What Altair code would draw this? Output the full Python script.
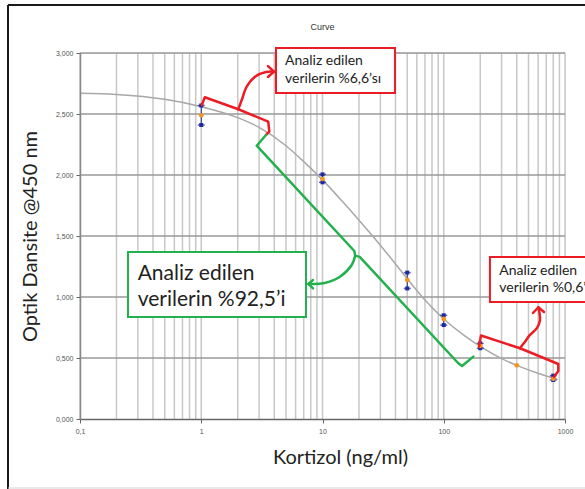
import altair as alt
import pandas as pd

# Cortisol standards (ng/ml) and optical density at 450 nm
conc = [1, 10, 50, 100, 200, 400, 800]
od_high = [2.57, 2.005, 1.20, 0.85, 0.62, None, 0.355]
od_mean = [2.49, 1.967, 1.14, 0.82, 0.60, 0.44, 0.33]
od_low = [2.41, 1.94, 1.07, 0.77, 0.58, None, 0.32]

# fitted standard curve
fit_conc = [0.1, 0.2, 0.5, 1, 2, 3, 5, 7, 10, 15, 20, 30, 50, 70, 100, 150, 200, 300, 400, 600, 870]
fit_od = [2.67, 2.66, 2.62, 2.56, 2.47, 2.39, 2.24, 2.11, 1.96, 1.77, 1.63, 1.425, 1.15, 0.975, 0.82, 0.68, 0.595, 0.495, 0.44, 0.375, 0.325]

# axis ticks and grid
x_ticks = [0.1, 1, 10, 100, 1000]
y_ticks = [0, 0.5, 1, 1.5, 2, 2.5, 3]
x_grid = [m * 10.0 ** e for e in range(-1, 3) for m in range(1, 10)] + [1000]

# annotation shapes, in (ng/ml, OD) units
red_brackets = {
    "upper": [(1.01, 2.574), (1.07, 2.637), (2.02, 2.539), (3.57, 2.437), (3.64, 2.355), (3.42, 2.328)],
    "lower": [(195.3, 0.594), (202.9, 0.684), (425.6, 0.580), (880.6, 0.451), (880.6, 0.393), (811.8, 0.344)],
    "upper_head": [(3.55, 2.893), (3.98, 2.847), (3.55, 2.803)],
    "lower_head": [(544.5, 0.869), (602.6, 0.916), (671.0, 0.877)],
}
red_arrows = {
    "upper": [(2.02, 2.539), (2.157, 2.615), (2.371, 2.724), (2.776, 2.806), (3.42, 2.844), (3.98, 2.847)],
    "lower": [(425.6, 0.580), (467.9, 0.634), (514.2, 0.689), (584.4, 0.743), (622.2, 0.811), (613.8, 0.879), (602.6, 0.916)],
}
green_brackets = {
    "bracket": [(3.42, 2.328), (2.866, 2.240), (18.30, 1.377), (18.61, 1.339), (20.27, 1.329), (131.8, 0.457), (141.5, 0.434), (175.3, 0.511)],
    "head": [(8.35, 1.139), (7.64, 1.107), (8.35, 1.071)],
}
green_arrows = {
    "arrow": [(18.61, 1.339), (17.41, 1.262), (13.94, 1.166), (10.15, 1.112), (7.64, 1.107)],
}

red_boxes_x = [4.136, 240.4]
red_boxes_x2 = [39.6, 4159]
red_boxes_y = [2.672, 0.959]
red_boxes_y2 = [3.041, 1.328]
green_box = dict(x=[0.2489], x2=[7.31], y=[0.836], y2=[1.369])

red_text_x = [4.906, 4.906, 287, 287]
red_text_y = [2.898, 2.754, 1.180, 1.037]
red_text = ["Analiz edilen", "verilerin %6,6’sı", "Analiz edilen", "verilerin %0,6’sı"]
green_text_x = [0.299, 0.299]
green_text_y = [1.139, 0.926]
green_text = ["Analiz edilen", "verilerin %92,5’i"]

RED = "#ec1c24"
GREEN = "#22b14c"
BLUE = "#1f2a9c"
ORANGE = "#f7941d"

xs = alt.Scale(type="log", domain=[0.1, 1000], nice=False)
ys = alt.Scale(domain=[0, 3], nice=False, zero=False)

x_axis = alt.Axis(
    values=x_ticks, grid=False, zindex=1,
    labelExpr="replace(format(datum.value, '~g'), '.', ',')",
    labelFont="Liberation Sans", labelFontSize=7, labelColor="#555", labelFlush=False,
    labelPadding=4, tickSize=4, tickColor="#666", domainColor="#666", domainWidth=1.5,
    title="Kortizol (ng/ml)", titleFont="Lato", titleFontSize=20, titleFontWeight="normal",
    titleColor="#222", titleX=260, titleY=38, titleAlign="center", titleBaseline="middle",
)
y_axis = alt.Axis(
    values=y_ticks, grid=False, zindex=1,
    labelExpr="replace(format(datum.value, '.3f'), '.', ',')",
    labelFont="Liberation Sans", labelFontSize=7, labelColor="#555", labelFlush=False,
    labelPadding=3, tickSize=4, tickColor="#666", domainColor="#888", domainWidth=1.5,
    title="Optik Dansite @450 nm", titleFont="Lato", titleFontSize=20, titleFontWeight="normal",
    titleColor="#222", titleX=-50, titleY=183, titleAngle=270, titleAlign="center",
    titleBaseline="middle",
)


def X(field="x"):
    return alt.X(f"{field}:Q", scale=xs, axis=x_axis)


def Y(field="y"):
    return alt.Y(f"{field}:Q", scale=ys, axis=y_axis)


def path_frame(paths):
    rows = []
    for name, pts in paths.items():
        for i, (px, py) in enumerate(pts):
            rows.append({"path": name, "i": i, "x": px, "y": py})
    return pd.DataFrame(rows)


def path_layer(paths, color, interpolate):
    return alt.Chart(path_frame(paths)).mark_line(
        color=color, strokeWidth=2.5, interpolate=interpolate,
        strokeCap="round", strokeJoin="round",
    ).encode(x=X(), y=Y(), detail="path:N", order="i:Q")


one = pd.DataFrame({"k": [0]})

vgrid = alt.Chart(pd.DataFrame({"x": x_grid})).mark_rule(color="#c8c8c8", strokeWidth=1.5).encode(x=X())
hgrid = alt.Chart(pd.DataFrame({"y": y_ticks[1:]})).mark_rule(color="#999999", strokeWidth=1.5).encode(y=Y())

# page frame and chart heading
frame_left = alt.Chart(one).mark_rule(color="#1a1a1a", strokeWidth=2).encode(
    x=alt.value(-72), y=alt.value(-48), y2=alt.value(440))
frame_top = alt.Chart(one).mark_rule(color="#1a1a1a", strokeWidth=2).encode(
    x=alt.value(-72), x2=alt.value(510), y=alt.value(-48))
frame_bottom = alt.Chart(one).mark_rule(color="#d4d4d4", strokeWidth=1).encode(
    x=alt.value(-72), x2=alt.value(510), y=alt.value(435))
heading = alt.Chart(one).mark_text(
    font="Liberation Sans", fontSize=9, color="#333", align="center", baseline="middle").encode(
    x=alt.value(242.5), y=alt.value(-26), text=alt.value("Curve"))

curve = alt.Chart(pd.DataFrame({"x": fit_conc, "y": fit_od})).mark_line(
    color="#a8a8a8", strokeWidth=1.5, interpolate="monotone").encode(x=X(), y=Y())

pts = pd.DataFrame({"conc": conc, "high": od_high, "mean": od_mean, "low": od_low})
rep = pts.dropna()
ends = pd.concat([rep[["conc", "high"]].rename(columns={"high": "od"}),
                  rep[["conc", "low"]].rename(columns={"low": "od"})])

err = alt.Chart(rep).mark_rule(color=BLUE, strokeWidth=1).encode(x=X("conc"), y=Y("low"), y2="high")
caps = alt.Chart(ends).mark_tick(orient="horizontal", color=BLUE, size=7, thickness=1.5).encode(
    x=X("conc"), y=Y("od"))
blue = alt.Chart(ends).mark_square(size=16, color=BLUE, opacity=1).encode(x=X("conc"), y=Y("od"))
orange = alt.Chart(pts).mark_circle(size=22, color=ORANGE, opacity=1).encode(x=X("conc"), y=Y("mean"))

red_box = alt.Chart(pd.DataFrame({"x": red_boxes_x, "x2": red_boxes_x2, "y": red_boxes_y, "y2": red_boxes_y2})).mark_rect(
    fill="white", stroke=RED, strokeWidth=2).encode(x=X(), x2="x2", y=Y(), y2="y2")
green_rect = alt.Chart(pd.DataFrame(green_box)).mark_rect(
    fill="white", stroke=GREEN, strokeWidth=2).encode(x=X(), x2="x2", y=Y(), y2="y2")

red_label = alt.Chart(pd.DataFrame({"x": red_text_x, "y": red_text_y, "t": red_text})).mark_text(
    align="left", baseline="alphabetic", font="Lato", fontSize=14, color="#222").encode(x=X(), y=Y(), text="t:N")
green_label = alt.Chart(pd.DataFrame({"x": green_text_x, "y": green_text_y, "t": green_text})).mark_text(
    align="left", baseline="alphabetic", font="Lato", fontSize=21, color="#222").encode(x=X(), y=Y(), text="t:N")

chart = alt.layer(
    vgrid, hgrid, frame_left, frame_top, frame_bottom, heading, curve,
    err, caps, blue, orange,
    path_layer(red_brackets, RED, "linear"), path_layer(red_arrows, RED, "catmull-rom"),
    path_layer(green_brackets, GREEN, "linear"), path_layer(green_arrows, GREEN, "catmull-rom"),
    red_box, green_rect, red_label, green_label,
).properties(
    width=485, height=366,
    autosize=alt.AutoSizeParams(type="none"),
    padding={"left": 80, "top": 53, "right": 20, "bottom": 70},
).configure_view(stroke=None).configure(background="white")

chart.save("out.html", embed_options={"renderer": "svg", "actions": False})
